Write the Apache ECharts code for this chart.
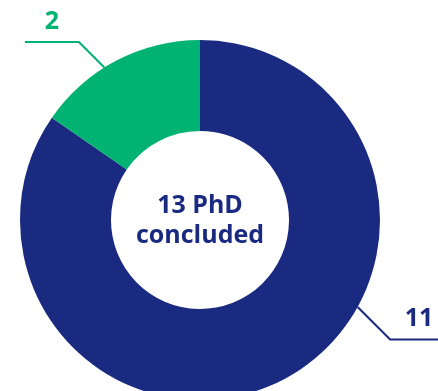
<!DOCTYPE html>
<html>
<head>
<meta charset="utf-8">
<script src="https://cdn.jsdelivr.net/npm/echarts@6/dist/echarts.min.js"></script>
<style>
  html, body { margin: 0; padding: 0; background: #ffffff; }
  #chart { width: 438px; height: 391px; }
</style>
</head>
<body>
<div id="chart"></div>
<script>
// PhD outcomes
const categories = ['Blue group', 'Green group'];
const values = [11, 2];
const centerLines = ['13 PhD', 'concluded'];

const BLUE = '#1a2a80';
const GREEN = '#00b373';
const colors = [BLUE, GREEN];

const CX = 200, CY = 220, R_OUT = 180, R_IN = 89;
const FONT = '"Open Sans", "Noto Sans", sans-serif';

// leader-line geometry per slice: rim angle (deg), diagonal length, horizontal run (signed)
const leaders = [
  { angle: -28.9, diag: 46, run: 60, textOffset: 29 },
  { angle: 122.1, diag: 36, run: -54, textOffset: -27 }
];

const chart = echarts.init(document.getElementById('chart'));

chart.setOption({
  animation: false,
  backgroundColor: '#ffffff',
  series: [{
    type: 'pie',
    center: [CX, CY],
    radius: [R_IN, R_OUT],
    startAngle: 90,
    clockwise: true,
    silent: true,
    data: categories.map((c, i) => ({
      name: c,
      value: values[i],
      itemStyle: { color: colors[i] },
      label: { color: colors[i] },
      labelLine: { lineStyle: { color: colors[i], width: 2 } }
    })),
    label: {
      show: true,
      position: 'outside',
      formatter: '{c}',
      fontFamily: FONT,
      fontWeight: 'bold',
      fontSize: 25
    },
    labelLine: { show: true, smooth: false, length: 20, length2: 20 }
  }],
  graphic: [{
    type: 'text',
    x: CX,
    y: CY + 1,
    style: {
      text: centerLines.join('\n'),
      fill: BLUE,
      font: 'bold 25px ' + FONT,
      lineHeight: 30,
      align: 'center',
      verticalAlign: 'middle'
    }
  }]
});

chart.setOption({
  series: [{
    labelLayout: function (params) {
      const L = leaders[params.dataIndex];
      const a = L.angle * Math.PI / 180;
      const p0 = [CX + R_OUT * Math.cos(a), CY - R_OUT * Math.sin(a)];
      const dir = L.run > 0 ? 1 : -1;
      const dy = Math.sin(a) > 0 ? -1 : 1;
      const d = L.diag / Math.SQRT2;
      const p1 = [p0[0] + dir * d, p0[1] + dy * d];
      const p2 = [p1[0] + L.run, p1[1]];
      return {
        x: p1[0] + L.textOffset,
        y: p1[1] - 8,
        align: 'center',
        verticalAlign: 'bottom',
        labelLinePoints: [p0, p1, p2]
      };
    }
  }]
});
</script>
</body>
</html>
